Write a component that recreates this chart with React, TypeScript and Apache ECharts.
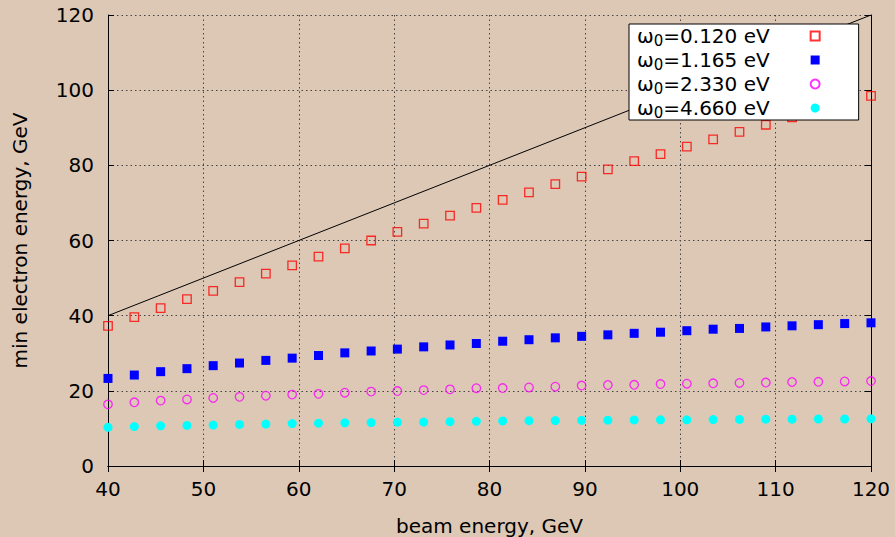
import React, { useEffect, useRef } from "react";
import * as echarts from "echarts";

const beamEnergy = [
  40, 42.76, 45.52, 48.28, 51.03, 53.79, 56.55, 59.31, 62.07, 64.83,
  67.59, 70.34, 73.1, 75.86, 78.62, 81.38, 84.14, 86.9, 89.66, 92.41,
  95.17, 97.93, 100.69, 103.45, 106.21, 108.97, 111.72, 114.48, 117.24, 120,
];

const eMin0120 = [
  37.3, 39.6, 42.0, 44.4, 46.6, 48.9, 51.2, 53.4, 55.7, 57.9,
  60.0, 62.3, 64.5, 66.6, 68.7, 70.8, 72.8, 75.0, 77.0, 78.9,
  81.1, 83.0, 85.0, 86.9, 88.9, 90.8, 92.8, 94.7, 96.6, 98.5,
];

const eMin1165 = [
  23.3, 24.2, 25.1, 25.9, 26.7, 27.4, 28.1, 28.7, 29.4, 30.1,
  30.6, 31.1, 31.7, 32.2, 32.6, 33.2, 33.6, 34.1, 34.5, 34.9,
  35.3, 35.6, 36.0, 36.4, 36.6, 37.0, 37.3, 37.6, 37.9, 38.1,
];

const eMin2330 = [
  16.4, 16.95, 17.4, 17.7, 18.1, 18.4, 18.7, 19.0, 19.2, 19.5,
  19.8, 19.95, 20.2, 20.4, 20.7, 20.75, 20.9, 21.1, 21.4, 21.55,
  21.6, 21.8, 21.9, 22.0, 22.1, 22.2, 22.35, 22.4, 22.5, 22.6,
];

const eMin4660 = [
  10.3, 10.5, 10.7, 10.8, 10.9, 11.05, 11.15, 11.3, 11.4, 11.5,
  11.55, 11.65, 11.7, 11.8, 11.9, 12.0, 12.05, 12.1, 12.15, 12.2,
  12.25, 12.3, 12.3, 12.35, 12.4, 12.45, 12.45, 12.5, 12.5, 12.55,
];

const diagonalX = [40, 120];
const diagonalY = [40, 120];

const seriesNames = ["ω0=0.120 eV", "ω0=1.165 eV", "ω0=2.330 eV", "ω0=4.660 eV"];

const xTitle = "beam energy, GeV";
const yTitle = "min electron energy, GeV";

const FONT = "DejaVu Sans";
const BG = "#dcc8b5";

function pairs(xs: number[], ys: number[]) {
  return xs.map((x, i) => [x, ys[i]]);
}

export default function App() {
  const ref = useRef<HTMLDivElement>(null);

  useEffect(() => {
    if (!ref.current) return;
    const chart = echarts.init(ref.current, undefined, { renderer: "svg" });

    const axisCommon = {
      axisLine: { show: true, lineStyle: { color: "#000", width: 1 } },
      axisTick: { show: true, inside: true, length: 6, lineStyle: { color: "#000" } },
    };

    chart.setOption({
      animation: false,
      backgroundColor: BG,
      textStyle: { fontFamily: FONT, color: "#000" },
      grid: {
        left: 108,
        right: 24,
        top: 15,
        bottom: 71,
        containLabel: false,
        outerBoundsMode: "none",
      },
      xAxis: [
        {
          type: "value",
          min: 40,
          max: 120,
          interval: 10,
          position: "bottom",
          ...axisCommon,
          axisLabel: { fontSize: 20, color: "#000", margin: 13, fontFamily: FONT },
          splitLine: {
            show: true,
            lineStyle: { color: "#444", width: 1, type: [1.5, 3] },
          },
          name: xTitle,
          nameLocation: "middle",
          nameGap: 50,
          nameTextStyle: { fontSize: 20, color: "#000", fontFamily: FONT },
        },
        {
          type: "value",
          min: 40,
          max: 120,
          interval: 10,
          position: "top",
          ...axisCommon,
          axisLabel: { show: false },
          splitLine: { show: false },
        },
      ],
      yAxis: [
        {
          type: "value",
          min: 0,
          max: 120,
          interval: 20,
          position: "left",
          ...axisCommon,
          axisLabel: { fontSize: 20, color: "#000", margin: 14, fontFamily: FONT },
          splitLine: {
            show: true,
            lineStyle: { color: "#444", width: 1, type: [1.5, 3] },
          },
          name: yTitle,
          nameLocation: "middle",
          nameGap: 78,
          nameTextStyle: { fontSize: 20, color: "#000", fontFamily: FONT },
        },
        {
          type: "value",
          min: 0,
          max: 120,
          interval: 20,
          position: "right",
          ...axisCommon,
          axisLabel: { show: false },
          splitLine: { show: false },
        },
      ],
      legend: {
        show: true,
        orient: "vertical",
        left: 629,
        top: 24,
        align: "right",
        backgroundColor: "#fff",
        borderColor: "#000",
        borderWidth: 1,
        borderRadius: 0,
        padding: [0, 38, 0, 8],
        itemGap: 0,
        itemWidth: 9,
        itemHeight: 9,
        data: seriesNames,
        formatter: (name: string) => {
          const rest = name.slice(2);
          return `{a|ω}{s|0}{b|${rest}}`;
        },
        textStyle: {
          fontFamily: FONT,
          color: "#000",
          lineHeight: 24,
          rich: {
            a: { fontSize: 20, lineHeight: 24, fontFamily: FONT, color: "#000" },
            b: {
              fontSize: 20,
              lineHeight: 24,
              fontFamily: FONT,
              color: "#000",
              padding: [0, 36, 0, 0],
            },
            s: {
              fontSize: 15,
              lineHeight: 15,
              fontFamily: FONT,
              color: "#000",
              padding: [9, 0, 0, 0],
            },
          },
        },
      },
      series: [
        {
          name: "diagonal",
          type: "line",
          data: pairs(diagonalX, diagonalY),
          showSymbol: false,
          symbol: "none",
          lineStyle: { color: "#000", width: 1 },
          z: 1,
          silent: true,
        },
        {
          name: seriesNames[0],
          type: "scatter",
          data: pairs(beamEnergy, eMin0120),
          symbol: "rect",
          symbolSize: 8.5,
          itemStyle: { color: "rgba(0,0,0,0)", borderColor: "#ff0000", borderWidth: 1.3 },
          z: 3,
        },
        {
          name: seriesNames[1],
          type: "scatter",
          data: pairs(beamEnergy, eMin1165),
          symbol: "rect",
          symbolSize: 9,
          itemStyle: { color: "#0000ff", opacity: 1 },
          z: 3,
        },
        {
          name: seriesNames[2],
          type: "scatter",
          data: pairs(beamEnergy, eMin2330),
          symbol: "circle",
          symbolSize: 8.5,
          itemStyle: { color: "rgba(0,0,0,0)", borderColor: "#ff00ff", borderWidth: 1.3 },
          z: 3,
        },
        {
          name: seriesNames[3],
          type: "scatter",
          data: pairs(beamEnergy, eMin4660),
          symbol: "circle",
          symbolSize: 9,
          itemStyle: { color: "#00ffff", opacity: 1 },
          z: 3,
        },
      ],
    });

    return () => {
      chart.dispose();
    };
  }, []);

  return (
    <div
      ref={ref}
      style={{ position: "fixed", left: 0, top: 0, width: 895, height: 537, background: BG }}
    />
  );
}
